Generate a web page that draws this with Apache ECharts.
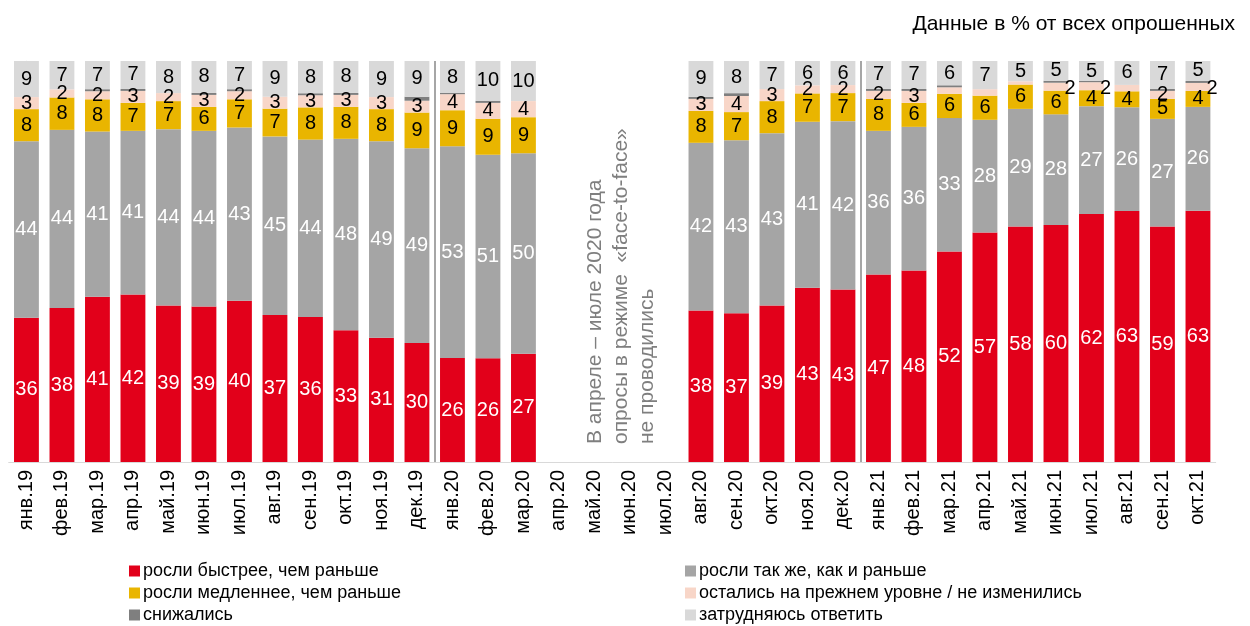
<!DOCTYPE html>
<html>
<head>
<meta charset="utf-8">
<script src="https://cdn.jsdelivr.net/npm/echarts@6/dist/echarts.min.js"></script>
<style>
  html, body { margin: 0; padding: 0; background: #fff; }
  #chart { width: 1250px; height: 626px; }
</style>
</head>
<body>
<div id="chart"></div>
<script>
// Monthly survey: how prices grew, share of respondents (%).
// Apr–Jul 2020 are empty (no face-to-face polls).
// Bars are drawn as a 100% stack (each month scaled to its own total), labels show the raw numbers.

const months = ["янв.19", "фев.19", "мар.19", "апр.19", "май.19", "июн.19", "июл.19", "авг.19",
  "сен.19", "окт.19", "ноя.19", "дек.19", "янв.20", "фев.20", "мар.20", "апр.20", "май.20",
  "июн.20", "июл.20", "авг.20", "сен.20", "окт.20", "ноя.20", "дек.20", "янв.21", "фев.21",
  "мар.21", "апр.21", "май.21", "июн.21", "июл.21", "авг.21", "сен.21", "окт.21"];

const faster =    [36, 38, 41, 42, 39, 39, 40, 37, 36, 33, 31, 30, 26, 26, 27, null, null, null, null,
  38, 37, 39, 43, 43, 47, 48, 52, 57, 58, 60, 62, 63, 59, 63];
const same =      [44, 44, 41, 41, 44, 44, 43, 45, 44, 48, 49, 49, 53, 51, 50, null, null, null, null,
  42, 43, 43, 41, 42, 36, 36, 33, 28, 29, 28, 27, 26, 27, 26];
const slower =    [8, 8, 8, 7, 7, 6, 7, 7, 8, 8, 8, 9, 9, 9, 9, null, null, null, null,
  8, 7, 8, 7, 7, 8, 6, 6, 6, 6, 6, 4, 4, 5, 4];
const unchanged = [3, 2, 2, 3, 2, 3, 2, 3, 3, 3, 3, 3, 4, 4, 4, null, null, null, null,
  3, 4, 3, 2, 2, 2, 3, 1.6, 1.6, 0.8, 2, 2, 1.6, 2, 2];
const fell =      [0, 0, 0.5, 0.5, 0, 0.5, 0.5, 0, 0.5, 0.5, 0, 1, 0.3, 0.5, 0, null, null, null, null,
  0.5, 0.7, 0, 0, 0, 0.5, 0.5, 0.5, 0, 0, 0.5, 0.3, 0, 0.5, 0.5];
const hardToSay = [9, 7, 7, 7, 8, 8, 7, 9, 8, 8, 9, 9, 8, 10, 10, null, null, null, null,
  9, 8, 7, 6, 6, 7, 7, 6, 7, 5, 5, 5, 6, 7, 5];

const seriesNames = ["росли быстрее, чем раньше", "росли так же, как и раньше",
  "росли медленнее, чем раньше", "остались на прежнем уровне / не изменились",
  "снижались", "затрудняюсь ответить"];

// months whose small "unchanged" label sits to the right of the bar
const sideLabelMonths = ["июн.21", "июл.21", "окт.21"];
// boundaries between years (in category units, for the separator lines)
const yearBreaks = [11.5, 23.5];

const FONT = "'Liberation Sans', Arial, sans-serif";
const colors = ["#e2001a", "#a5a5a5", "#e9b500", "#f8d6c8", "#7f7f7f", "#d9d9d9"];
const labelColors = ["#fff", "#fff", "#000", "#000", null, "#000"];

const allSeries = [faster, same, slower, unchanged, fell, hardToSay];
const totals = months.map((m, k) => allSeries.reduce((s, arr) => s + (arr[k] || 0), 0));

function barSeries(i) {
  const values = allSeries[i];
  const data = values.map((v, k) => {
    const share = v == null ? null : v / totals[k] * 100;
    if (i === 3 && sideLabelMonths.includes(months[k])) {
      return { value: share, label: { position: "right", distance: 0, offset: [-4, 2] } };
    }
    return share;
  });
  return {
    name: seriesNames[i],
    type: "bar",
    stack: "all",
    barWidth: "70%",
    data: data,
    itemStyle: { color: colors[i] },
    emphasis: { disabled: true },
    label: {
      show: labelColors[i] !== null,
      position: "inside",
      color: labelColors[i] || "#000",
      fontFamily: FONT,
      fontSize: 20,
      formatter: (p) => {
        const raw = values[p.dataIndex];
        return raw != null && raw >= 2 ? String(raw) : "";
      },
    },
  };
}

const legendBase = {
  orient: "vertical", top: 561, itemGap: 2, padding: 0,
  icon: "rect", itemWidth: 11, itemHeight: 11,
  textStyle: { fontFamily: FONT, fontSize: 18, lineHeight: 20, color: "#000", padding: [0, 0, 0, -2] },
  selectedMode: false,
};

const chart = echarts.init(document.getElementById("chart"));
chart.setOption({
  animation: false,
  textStyle: { fontFamily: FONT },
  title: {
    text: "Данные в % от всех опрошенных",
    right: 10, top: 9,
    textStyle: { fontFamily: FONT, fontSize: 21, fontWeight: "normal", color: "#000" },
  },
  grid: { left: 8.7, right: 34.3, top: 61, bottom: 164 },
  xAxis: [{
    type: "category",
    data: months,
    axisLine: { lineStyle: { color: "#d9d9d9" } },
    axisTick: { length: 6, lineStyle: { color: "#d9d9d9" } },
    axisLabel: { rotate: 90, fontFamily: FONT, fontSize: 20, color: "#000", margin: 8, interval: 0 },
  }, {
    type: "value", min: -0.5, max: months.length - 0.5, show: false,
  }],
  yAxis: {
    type: "value", min: 0, max: 100,
    axisLine: { show: true, lineStyle: { color: "#eeeeee" } },
    axisTick: { show: false }, axisLabel: { show: false }, splitLine: { show: false },
  },
  legend: [
    Object.assign({}, legendBase, { data: [seriesNames[0], seriesNames[2], seriesNames[4]], left: 129 }),
    Object.assign({}, legendBase, { data: [seriesNames[1], seriesNames[3], seriesNames[5]], left: 685 }),
  ],
  graphic: [{
    type: "text",
    x: 582, y: 444,
    rotation: Math.PI / 2,
    style: {
      text: "В апреле – июле 2020 года\nопросы в режиме  «face-to-face»\nне проводились",
      fontFamily: FONT, fontSize: 21, lineHeight: 26,
      fill: "#7f7f7f", align: "left", verticalAlign: "top",
    },
  }],
  series: [
    barSeries(0), barSeries(1), barSeries(2), barSeries(3), barSeries(4), barSeries(5),
    {
      type: "line", xAxisIndex: 1, data: [], silent: true,
      markLine: {
        symbol: "none", silent: true, label: { show: false },
        lineStyle: { color: "#a6a6a6", width: 2, type: "solid" },
        data: yearBreaks.map((x) => ({ xAxis: x })),
      },
    },
  ],
});
</script>
</body>
</html>
